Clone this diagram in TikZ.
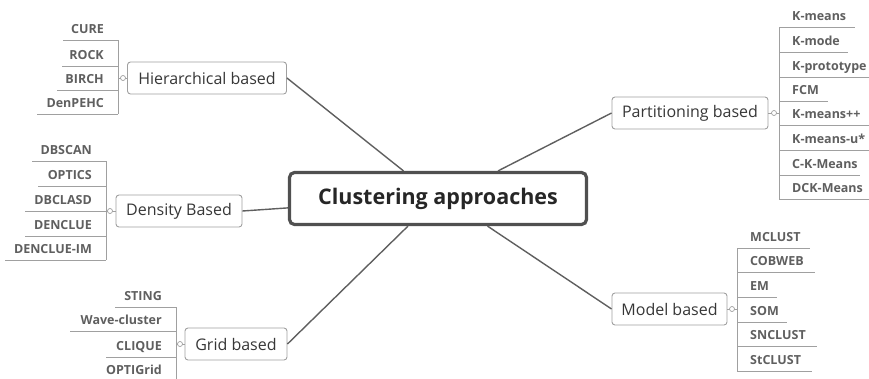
\documentclass[tikz,border=0pt]{standalone}
\usepackage{fontspec}
\setmainfont{Open Sans}
\usetikzlibrary{positioning,calc}
\definecolor{linkgray}{RGB}{95,95,95}
\definecolor{boxgray}{RGB}{160,160,160}
\definecolor{rootgray}{RGB}{80,80,80}
\definecolor{labelgray}{RGB}{55,55,55}
\definecolor{leafgray}{RGB}{95,95,95}
\tikzset{
    root-box/.style={
        draw=rootgray,
        line width=3.2pt,
        rounded corners=5pt,
        minimum width=297pt,
        minimum height=52pt,
        text=black!85,
        font=\fontsize{21.5}{25}\selectfont\bfseries
    },
    branch-box/.style={
        draw=boxgray,
        line width=0.9pt,
        rounded corners=3pt,
        fill=white,
        minimum height=32pt,
        text=labelgray,
        font=\fontsize{16}{19}\selectfont
    },
    leaf-text/.style={
        inner sep=0pt,
        text=leafgray,
        font=\fontsize{12.5}{14}\selectfont\bfseries
    },
    knob/.style={
        circle,
        draw=boxgray,
        fill=white,
        line width=0.7pt,
        inner sep=0pt,
        minimum size=5pt
    },
    link/.style={
        draw=linkgray,
        line width=1.4pt
    },
    rule/.style={
        draw=boxgray,
        line width=1pt
    },
}

\begin{document}
\begin{tikzpicture}[x=1pt,y=-1pt]
    \useasboundingbox (0,0) rectangle (869,378);
    \clip (0,0) rectangle (869,378);

    % centre and the five groups
    \node [root-box] (root) at (438,198.5) {Clustering approaches};
    \node [branch-box,minimum width=159pt] (hier) at (207,78) {Hierarchical based};
    \node [branch-box,minimum width=126pt] (dens) at (179,211) {Density Based};
    \node [branch-box,minimum width=102pt] (grid) at (236,344) {Grid based};
    \node [branch-box,minimum width=156pt] (part) at (690,113) {Partitioning based};
    \node [branch-box,minimum width=115pt] (model) at (669.5,309) {Model based};

    \draw [link] (hier.east) -- ($(root.north west)!0.385!(root.north east)$);
    \draw [link] (dens.east) -- ($(root.north west)!0.67!(root.south west)$);
    \draw [link] (grid.east) -- ($(root.south west)!0.40!(root.south east)$);
    \draw [link] (part.west) -- ($(root.north west)!0.70!(root.north east)$);
    \draw [link] (model.west) -- ($(root.south west)!0.665!(root.south east)$);

    % Hierarchical based
    \coordinate (hv) at (118,78);
    \draw [rule] (hier.west) -- (hv);
    \node [knob] (hk) at (123,78) {};
    \draw [rule] (hv |- 0,40) -- (hv |- 0,114);
    \foreach \txt/\uy/\ux [count=\i] in {CURE/40/63,ROCK/66/62,BIRCH/90/57,DenPEHC/114/37} {
        \coordinate (hu\i) at (\ux,\uy);
        \node [leaf-text,anchor=base east] (hl\i) at (104,\uy-6.5) {\txt};
        \draw [rule] (hu\i) -- (hu\i -| hv);
    }

    % Density Based
    \coordinate (dv) at (106,211);
    \draw [rule] (dens.west) -- (dv);
    \node [knob] (dk) at (110,211) {};
    \draw [rule] (dv |- 0,161) -- (dv |- 0,260);
    \foreach \txt/\uy/\ux [count=\i] in {DBSCAN/161/32,OPTICS/186/38,DBCLASD/211/25,DENCLUE/236/25,DENCLUE-IM/260/5} {
        \coordinate (du\i) at (\ux,\uy);
        \node [leaf-text,anchor=base east] (dl\i) at (92,\uy-6.5) {\txt};
        \draw [rule] (du\i) -- (du\i -| dv);
    }

    % Grid based
    \coordinate (gv) at (176,344);
    \draw [rule] (grid.west) -- (gv);
    \node [knob] (gk) at (180,344) {};
    \draw [rule] (gv |- 0,307) -- (gv |- 0,381);
    \foreach \txt/\uy/\ux [count=\i] in {STING/307/115,Wave-cluster/331/70,CLIQUE/357/106,OPTIGrid/381/100} {
        \coordinate (gu\i) at (\ux,\uy);
        \node [leaf-text,anchor=base east] (gl\i) at (162,\uy-6.5) {\txt};
        \draw [rule] (gu\i) -- (gu\i -| gv);
    }

    % Partitioning based
    \coordinate (pv) at (779,113);
    \draw [rule] (part.east) -- (pv);
    \node [knob] (pk) at (774,113) {};
    \draw [rule] (pv |- 0,27) -- (pv |- 0,199);
    \foreach \txt/\uy/\ux [count=\i] in {K-means/27/855,K-mode/52/848,K-prototype/77/875,FCM/101/828,K-means++/125/875,K-means-u*/150/875,C-K-Means/175/860,DCK-Means/199/875} {
        \coordinate (pu\i) at (\ux,\uy);
        \node [leaf-text,anchor=base west] (pl\i) at (792,\uy-6.5) {\txt};
        \draw [rule] (pu\i -| pv) -- (pu\i);
    }

    % Model based
    \coordinate (mv) at (737,309);
    \draw [rule] (model.east) -- (mv);
    \node [knob] (mk) at (732,309) {};
    \draw [rule] (mv |- 0,248) -- (mv |- 0,371);
    \foreach \txt/\uy/\ux [count=\i] in {MCLUST/248/810,COBWEB/272/815,EM/297/777,SOM/322/787,SNCLUST/346/817,StCLUST/371/812} {
        \coordinate (mu\i) at (\ux,\uy);
        \node [leaf-text,anchor=base west] (ml\i) at (750,\uy-6.5) {\txt};
        \draw [rule] (mu\i -| mv) -- (mu\i);
    }
\end{tikzpicture}
\end{document}
